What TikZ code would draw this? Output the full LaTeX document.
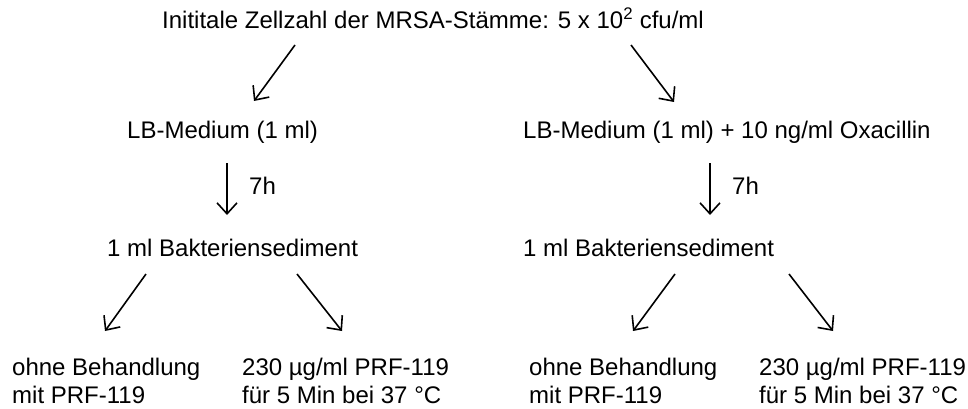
\documentclass[tikz,border=0pt]{standalone}
\usepackage{fontspec}
\setmainfont{Liberation Sans}
\usetikzlibrary{arrows.meta,positioning}

\begin{document}
\begin{tikzpicture}[
  x=1pt, y=-1pt,
  font=\fontsize{24}{28}\selectfont,
  txt/.style={anchor=base west, inner sep=0pt, align=left},
  arr/.style={-{Straight Barb[length=11pt, width=20pt, line width=1.6pt]}, line width=1.6pt},
]
\useasboundingbox (0,0) rectangle (968,409);
% start
\node[txt] (start) at (162,29) {Inititale Zellzahl der MRSA-St\"amme: 5 x 10\textsuperscript{2} cfu/ml};
% media
\node[txt] (medA) at (127,138) {LB-Medium (1 ml)};
\node[txt] (medB) at (523,138) {LB-Medium (1 ml) + 10 ng/ml Oxacillin};
% sediment
\node[txt] (sedA) at (107,256) {1 ml Bakteriensediment};
\node[txt] (sedB) at (523,256) {1 ml Bakteriensediment};
% treatments (base = last line)
\node[txt] (ohneA) at (12,403) {ohne Behandlung\\mit PRF-119};
\node[txt] (prfA) at (242,403) {230 µg/ml PRF-119\\f\"ur 5 Min bei 37 °C};
\node[txt] (ohneB) at (529,403) {ohne Behandlung\\mit PRF-119};
\node[txt] (prfB) at (759,403) {230 µg/ml PRF-119\\f\"ur 5 Min bei 37 °C};
% arrow ends
\coordinate (s1) at (295,45);  \coordinate (e1) at (254,101);
\coordinate (s2) at (631,45);  \coordinate (e2) at (674,102);
\coordinate (s3) at (227,163); \coordinate (e3) at (227,215);
\coordinate (s4) at (710,163); \coordinate (e4) at (710,215);
\coordinate (s5) at (146,274); \coordinate (e5) at (105,331);
\coordinate (s6) at (297,274); \coordinate (e6) at (342,331);
\coordinate (s7) at (675,274); \coordinate (e7) at (633,331);
\coordinate (s8) at (789,274); \coordinate (e8) at (833,331);
% arrows
\draw[arr] (s1) -- (e1);
\draw[arr] (s2) -- (e2);
\draw[arr] (s3) -- (e3);
\draw[arr] (s4) -- (e4);
\draw[arr] (s5) -- (e5);
\draw[arr] (s6) -- (e6);
\draw[arr] (s7) -- (e7);
\draw[arr] (s8) -- (e8);
% durations
\node[txt] (hA) at (249,194) {7h};
\node[txt] (hB) at (732,194) {7h};
\end{tikzpicture}
\end{document}
